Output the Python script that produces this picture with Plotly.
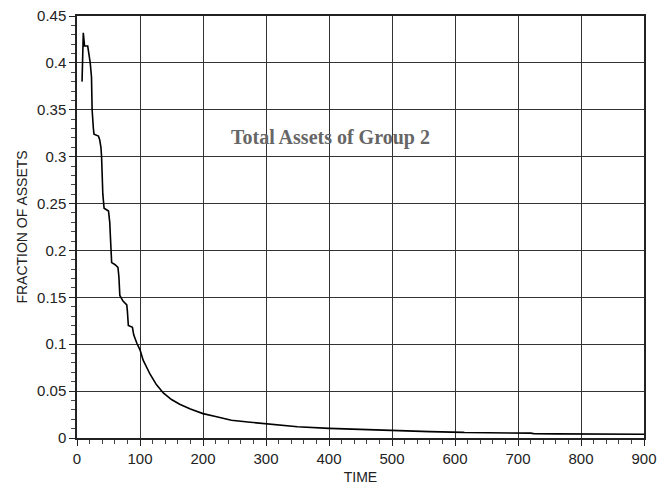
import plotly.graph_objects as go

time = [8, 8.5, 9, 10, 11, 12, 17, 19, 21, 23, 24, 26, 27, 34, 36, 38, 39, 41, 43, 50,
        52, 53, 54, 55, 60, 65, 66.5, 68, 73, 79, 80, 81.5, 88, 90, 95, 100, 105, 110,
        116, 126, 137, 150, 163, 180, 200, 220, 245, 275, 300, 350, 400, 460, 515, 560,
        613, 615, 720, 725, 760, 900]
fraction = [0.38, 0.41, 0.425, 0.432, 0.425, 0.418, 0.418, 0.41, 0.40, 0.385, 0.35, 0.33,
            0.324, 0.322, 0.318, 0.31, 0.30, 0.26, 0.245, 0.242, 0.23, 0.215, 0.20, 0.187,
            0.185, 0.182, 0.172, 0.152, 0.146, 0.142, 0.135, 0.12, 0.118, 0.11, 0.101,
            0.094, 0.083, 0.076, 0.068, 0.057, 0.048, 0.041, 0.036, 0.031, 0.026, 0.023,
            0.019, 0.0168, 0.015, 0.012, 0.0103, 0.0087, 0.0076, 0.0068, 0.006, 0.0058,
            0.0052, 0.0047, 0.0044, 0.004]

title_text = "Total Assets of Group 2"
x_title = "TIME"
y_title = "FRACTION OF ASSETS"

fig = go.Figure()
fig.add_trace(go.Scatter(x=time, y=fraction, mode="lines",
                         line=dict(color="black", width=1.6), showlegend=False))

fig.add_annotation(x=403, y=0.32, xref="x", yref="y", text="<b>%s</b>" % title_text,
                   showarrow=False,
                   font=dict(family="Liberation Serif", size=20, color="#666666"))

axis_font = dict(family="Liberation Sans", size=15, color="#222")
fig.update_xaxes(range=[0, 900], dtick=100, tick0=0, showgrid=True, gridcolor="#333",
                 gridwidth=1, showline=True, linecolor="#222", linewidth=1.5, mirror=True,
                 ticks="outside", ticklen=6, tickcolor="#222", automargin=False,
                 ticklabeloverflow="allow",
                 minor=dict(dtick=20, ticks="outside", ticklen=4, tickcolor="#444", showgrid=False),
                 zeroline=False, tickfont=axis_font,
                 title=dict(text=x_title, font=dict(family="Liberation Sans", size=14, color="#222"),
                            standoff=6))
fig.update_yaxes(range=[0, 0.45], dtick=0.05, tick0=0, showgrid=True, gridcolor="#333",
                 gridwidth=1, showline=True, linecolor="#222", linewidth=1.5, mirror=True,
                 ticks="outside", ticklen=6, tickcolor="#222", automargin=False,
                 ticklabeloverflow="allow",
                 minor=dict(dtick=0.01, ticks="outside", ticklen=4, tickcolor="#444", showgrid=False),
                 zeroline=False, tickfont=axis_font,
                 title=dict(text=y_title, font=dict(family="Liberation Sans", size=14, color="#222"),
                            standoff=6))

# the page body has an 8px margin, so the figure is sized and offset to fit the window
fig.update_layout(width=663, height=479, margin=dict(l=69, r=27, t=8, b=49),
                  plot_bgcolor="white", paper_bgcolor="white")

fig.write_html("out.html")
